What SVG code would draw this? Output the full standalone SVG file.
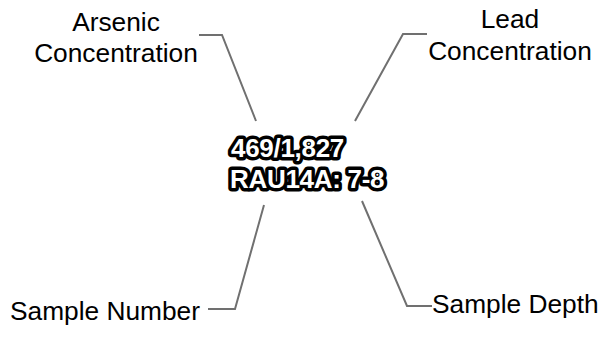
<svg xmlns="http://www.w3.org/2000/svg" width="602" height="345" viewBox="0 0 602 345">
<style>
.lbl{font-family:"Liberation Sans",Arial,sans-serif;font-size:26.3px;fill:#000}
.big{font-family:"Liberation Sans",Arial,sans-serif;font-size:26px;font-weight:bold;fill:#fff;stroke:#000;stroke-width:7;stroke-linejoin:round;paint-order:stroke;letter-spacing:-0.3px}
.ln{fill:none;stroke:#707070;stroke-width:2}
</style>
<rect width="602" height="345" fill="#fff"/>
<g id="connectors">
<polyline class="ln" points="199,35 222,35 256,121"/>
<polyline class="ln" points="427,34 403,34 355,121"/>
<polyline class="ln" points="208,309 235,309 264,205"/>
<polyline class="ln" points="362,201 407,306 432,306"/>
</g>
<g id="center">
<text class="big" x="231" y="157">469/1,827</text>
<text class="big" x="230" y="188">RAU14A: 7-8</text>
</g>
<g id="arsenic">
<text class="lbl" x="116" y="31" text-anchor="middle">Arsenic</text>
<text class="lbl" x="116" y="62" text-anchor="middle">Concentration</text>
</g>
<g id="lead">
<text class="lbl" x="510" y="28" text-anchor="middle">Lead</text>
<text class="lbl" x="510" y="60" text-anchor="middle">Concentration</text>
</g>
<g id="sample-number">
<text class="lbl" x="200" y="320" text-anchor="end">Sample Number</text>
</g>
<g id="sample-depth">
<text class="lbl" x="432" y="313">Sample Depth</text>
</g>
</svg>
